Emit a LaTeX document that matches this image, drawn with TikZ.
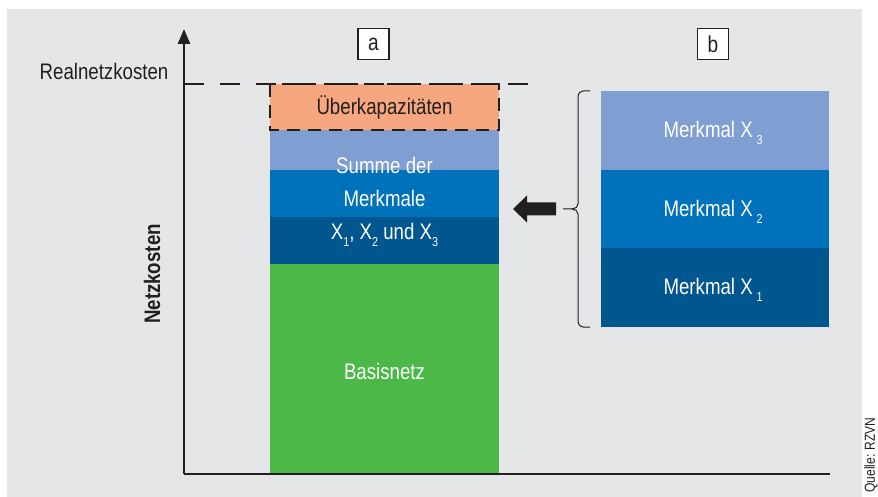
\documentclass[tikz,border=0pt]{standalone}
\usepackage{fontspec}
\setmainfont[FakeStretch=0.83]{Liberation Sans}
\usetikzlibrary{arrows.meta}
\definecolor{bggray}{HTML}{E5E6E8}
\definecolor{orangec}{HTML}{F7A77F}
\definecolor{lightblue}{HTML}{7F9ED2}
\definecolor{midblue}{HTML}{0071BB}
\definecolor{darkblue}{HTML}{00568F}
\definecolor{greenc}{HTML}{4CB848}
\definecolor{inkc}{HTML}{231F20}
\newcommand\lowsub[1]{\raisebox{-0.55ex}{\fontsize{13}{13}\selectfont #1}}
\begin{document}
\begin{tikzpicture}[x=1pt,y=-1pt,
  wtext/.style={text=white,font=\fontsize{22.5}{33}\selectfont,align=center},
  btext/.style={text=inkc,font=\fontsize{22.5}{25}\selectfont},
  lblbox/.style={draw=inkc,line width=1.3pt,fill=white,minimum width=31pt,minimum height=31pt,inner sep=0pt,text=inkc,font=\fontsize{23}{24}\selectfont}]
\useasboundingbox (0,0) rectangle (878,497);
\fill[white] (0,0) rectangle (878,497);
\fill[bggray] (7,9) rectangle (862,497);
% bar a
\fill[greenc] (270,264) rectangle (499,474);
\fill[darkblue] (270,217) rectangle (499,264);
\fill[midblue] (270,170) rectangle (499,217);
\fill[lightblue] (270,130) rectangle (499,170);
\fill[orangec] (270,84) rectangle (499,130);
\draw[inkc,line width=1.4pt,dash pattern=on 13pt off 8pt] (270,84) rectangle (499,130);
\draw[inkc,line width=1.4pt,dash pattern=on 20pt off 16pt] (184,84) -- (535,84);
\node[btext] (ueber) at (384.5,107) {Überkapazitäten};
\node[wtext] (summe) at (384.5,202) {Summe der\\Merkmale\\X\lowsub{1}, X\lowsub{2} und X\lowsub{3}};
\node[wtext] (basis) at (384.5,371) {Basisnetz};
% bar b
\fill[darkblue] (601,248) rectangle (829,327);
\fill[midblue] (601,170) rectangle (829,248);
\fill[lightblue] (601,91) rectangle (829,170);
\node[wtext] (m3) at (713,133) {Merkmal X\,\lowsub{3}};
\node[wtext] (m2) at (713,212) {Merkmal X\,\lowsub{2}};
\node[wtext] (m1) at (713,290) {Merkmal X\,\lowsub{1}};
% brace
\draw[inkc,line width=1pt] (590,91) -- (583,91) to[out=180,in=90] (578,96) -- (578,204)
  to[out=270,in=0] (572,209) -- (563,209);
\draw[inkc,line width=1pt] (572,209) to[out=0,in=90] (578,214) -- (578,322)
  to[out=270,in=180] (583,327) -- (590,327);
% block arrow
\fill[inkc] (556,202.5) -- (527,202.5) -- (527,195.5) -- (513,209) -- (527,222.5) -- (527,215.5) -- (556,215.5) -- cycle;
% axes
\coordinate (origin) at (184,474);
\coordinate (ytop) at (184,29);
\coordinate (xend) at (830,474);
\draw[inkc,line width=2.8pt,-{Triangle[length=15pt,width=12pt]}] (origin) -- (ytop);
\draw[inkc,line width=2.8pt] (xend) -- (origin);
% labels
\node[btext] (real) at (104,71) {Realnetzkosten};
\node[text=inkc,font=\fontsize{22.5}{23}\selectfont\bfseries,rotate=90] (netz) at (152,274) {Netzkosten};
\node[lblbox] (a) at (373.5,44) {a};
\node[lblbox] (b) at (713,44) {b};
\node[text=inkc,font=\fontsize{14.5}{15}\selectfont,rotate=90] (quelle) at (871,455) {Quelle: RZVN};
\end{tikzpicture}
\end{document}
